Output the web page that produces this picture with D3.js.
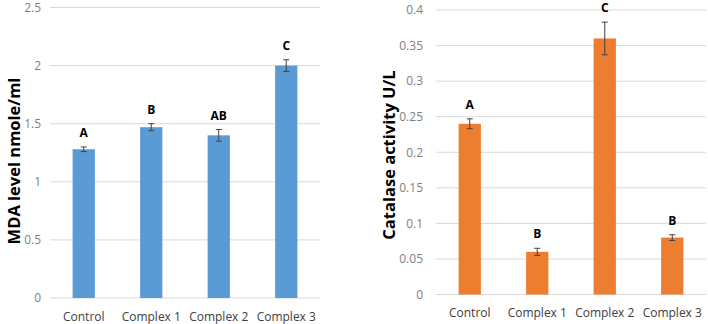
<!DOCTYPE html>
<html>
<head>
<meta charset="utf-8">
<script src="https://cdn.jsdelivr.net/npm/d3@7"></script>
<style>
  body { margin: 0; background: #fff; }
  text { font-family: "Open Sans", "Liberation Sans", sans-serif; }
</style>
</head>
<body>
<script>
const WIDTH = 708;
const HEIGHT = 324;

// datos
const categorias = ["Control", "Complex 1", "Complex 2", "Complex 3"];

const mdaValores = [1.28, 1.47, 1.40, 2.0];
const mdaErrores = [0.02, 0.03, 0.05, 0.05];
const mdaLetras = ["A", "B", "AB", "C"];
const mdaTicks = [0, 0.5, 1, 1.5, 2, 2.5];

const catValores = [0.24, 0.06, 0.36, 0.08];
const catErrores = [0.007, 0.005, 0.023, 0.004];
const catLetras = ["A", "B", "C", "B"];
const catTicks = [0, 0.05, 0.1, 0.15, 0.2, 0.25, 0.3, 0.35, 0.4];

const svg = d3.select("body")
    .append("svg")
    .attr("width", WIDTH)
    .attr("height", HEIGHT);

function dibujarGrafico(opc) {
    const g = svg.append("g");

    const x = d3.scaleBand()
        .domain(categorias)
        .range([opc.x0, opc.x1])
        .paddingInner(0.67)
        .paddingOuter(0.335);

    const y = d3.scaleLinear()
        .domain([0, opc.max])
        .range([opc.y0, opc.y1]);

    // lineas de grilla
    g.selectAll("line.grid")
        .data(opc.ticks)
        .join("line")
        .attr("class", "grid")
        .attr("x1", opc.x0)
        .attr("x2", opc.x1)
        .attr("y1", (d) => y(d))
        .attr("y2", (d) => y(d))
        .attr("stroke", "#d9d9d9")
        .attr("stroke-width", 1);

    // eje y
    const ejeY = d3.axisLeft(y)
        .tickValues(opc.ticks)
        .tickSize(0)
        .tickPadding(opc.x0 - opc.tickX)
        .tickFormat((d) => String(+d.toFixed(2)));
    g.append("g")
        .attr("transform", `translate(${opc.x0},0)`)
        .call(ejeY)
        .call((s) => s.select(".domain").remove())
        .selectAll("text")
        .attr("font-size", 12)
        .attr("font-family", "Open Sans, sans-serif")
        .attr("fill", "#808080");

    // eje x
    const ejeX = d3.axisBottom(x).tickSize(0).tickPadding(14);
    g.append("g")
        .attr("transform", `translate(0,${opc.y0})`)
        .call(ejeX)
        .call((s) => s.select(".domain").remove())
        .selectAll("text")
        .attr("font-size", 12)
        .attr("font-family", "Open Sans, sans-serif")
        .attr("fill", "#404040");

    const datos = categorias.map((c, i) => ({
        cat: c,
        valor: opc.valores[i],
        error: opc.errores[i],
        letra: opc.letras[i],
    }));

    // barras
    g.selectAll("rect")
        .data(datos)
        .join("rect")
        .attr("x", (d) => x(d.cat))
        .attr("y", (d) => y(d.valor))
        .attr("width", x.bandwidth())
        .attr("height", (d) => y(0) - y(d.valor))
        .attr("fill", opc.color);

    // barras de error
    const cx = (d) => x(d.cat) + x.bandwidth() / 2;
    const errores = g.selectAll("g.err")
        .data(datos)
        .join("g")
        .attr("class", "err")
        .attr("stroke", "#404040")
        .attr("stroke-width", 1);
    errores.append("line")
        .attr("x1", cx).attr("x2", cx)
        .attr("y1", (d) => y(d.valor - d.error))
        .attr("y2", (d) => y(d.valor + d.error));
    errores.append("line")
        .attr("x1", (d) => cx(d) - 3).attr("x2", (d) => cx(d) + 3)
        .attr("y1", (d) => y(d.valor + d.error))
        .attr("y2", (d) => y(d.valor + d.error));
    errores.append("line")
        .attr("x1", (d) => cx(d) - 3).attr("x2", (d) => cx(d) + 3)
        .attr("y1", (d) => y(d.valor - d.error))
        .attr("y2", (d) => y(d.valor - d.error));

    // letras de significancia
    g.selectAll("text.letra")
        .data(datos)
        .join("text")
        .attr("class", "letra")
        .attr("x", cx)
        .attr("y", (d) => y(d.valor + d.error) - 10)
        .attr("text-anchor", "middle")
        .attr("font-size", 12)
        .attr("font-weight", "bold")
        .attr("fill", "#000")
        .text((d) => d.letra);

    // titulo del eje y
    g.append("text")
        .attr("transform", `translate(${opc.tituloX},${opc.tituloY}) rotate(-90)`)
        .attr("text-anchor", "middle")
        .attr("dominant-baseline", "central")
        .attr("font-size", 16.5)
        .attr("font-weight", "bold")
        .attr("fill", "#000")
        .text(opc.titulo);
}

dibujarGrafico({
    x0: 50, x1: 320, y0: 298, y1: 7.5, max: 2.5,
    tickX: 41,
    ticks: mdaTicks,
    valores: mdaValores, errores: mdaErrores, letras: mdaLetras,
    color: "#5b9bd5",
    titulo: "MDA level nmole/ml",
    tituloX: 13, tituloY: 161,
});

dibujarGrafico({
    x0: 436, x1: 706, y0: 294.5, y1: 10, max: 0.4,
    tickX: 423,
    ticks: catTicks,
    valores: catValores, errores: catErrores, letras: catLetras,
    color: "#ed7d31",
    titulo: "Catalase activity U/L",
    tituloX: 388, tituloY: 155,
});
</script>
</body>
</html>
